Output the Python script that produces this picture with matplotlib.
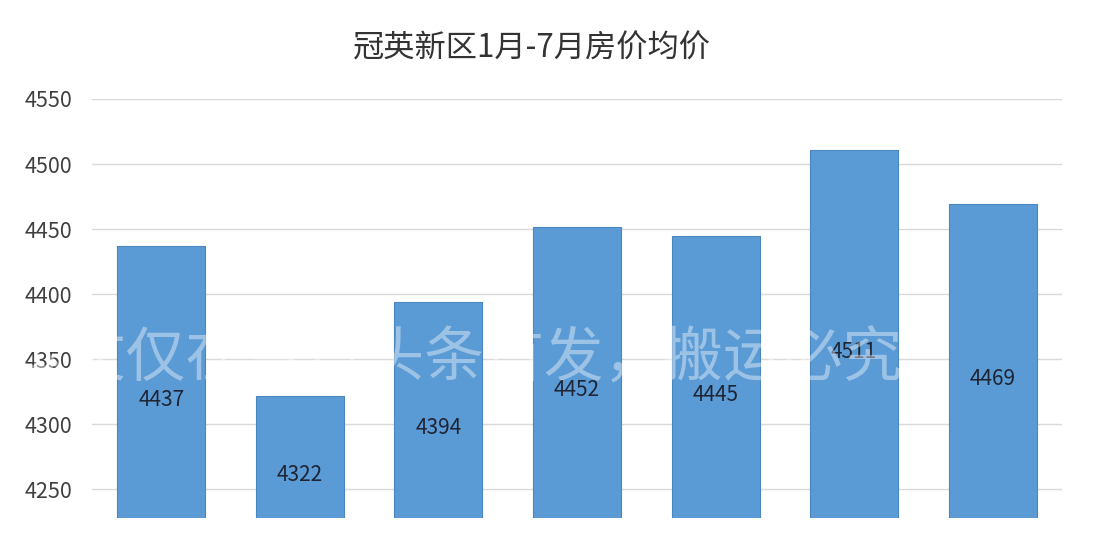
import matplotlib
matplotlib.use('Agg')
import matplotlib.pyplot as plt

plt.rcParams['font.family'] = ['Noto Sans CJK SC', 'DejaVu Sans']

# data
months = ['1月', '2月', '3月', '4月', '5月', '6月', '7月']
prices = [4437, 4322, 4394, 4452, 4445, 4511, 4469]
yticks = [4250, 4300, 4350, 4400, 4450, 4500, 4550]
title = '冠英新区1月-7月房价均价'
watermark = '本文仅在今日头条首发，搬运必究'

# colours
barcol = '#5b9bd5'
edgecol = '#4a86bf'
gridcol = '#d9d9d9'
textcol = '#404040'
labcol = '#1f2433'

axis_base = 4200  # original axis minimum (cropped off below)

fig = plt.figure(figsize=(10.94, 5.40), dpi=100)
ax = fig.add_axes([0.0841, 0.0407, 0.8867, 0.776])

xs = list(range(len(prices)))
ax.bar(xs, [p - axis_base for p in prices], bottom=axis_base, width=0.635,
       color=barcol, edgecolor=edgecol, linewidth=0.8, zorder=3)

# data labels centred in the (uncropped) bars
for x, p in zip(xs, prices):
    ax.text(x, (p + axis_base) / 2, str(p), ha='center', va='center',
            fontsize=15, color=labcol, zorder=5)

ax.set_xlim(-0.5, len(prices) - 0.5)
ax.set_ylim(4228, 4550)
ax.set_yticks(yticks)
ax.set_yticklabels([str(t) for t in yticks])
ax.set_xticks([])
ax.yaxis.grid(True, color=gridcol, linewidth=1, zorder=0)
ax.set_axisbelow(True)
for s in ax.spines.values():
    s.set_visible(False)
ax.tick_params(axis='y', length=0, pad=14, labelsize=15.5, labelcolor=textcol)

fig.text(0.486, 0.910, title, ha='center', va='center', fontsize=22.5,
         color='#333333')

# faint watermark across the bars
fig.text(0.416, 0.333, watermark, ha='center', va='center', fontsize=43,
         color='white', alpha=0.4, fontweight='light', zorder=10)

fig.savefig('out.png', dpi=100, facecolor='white')
